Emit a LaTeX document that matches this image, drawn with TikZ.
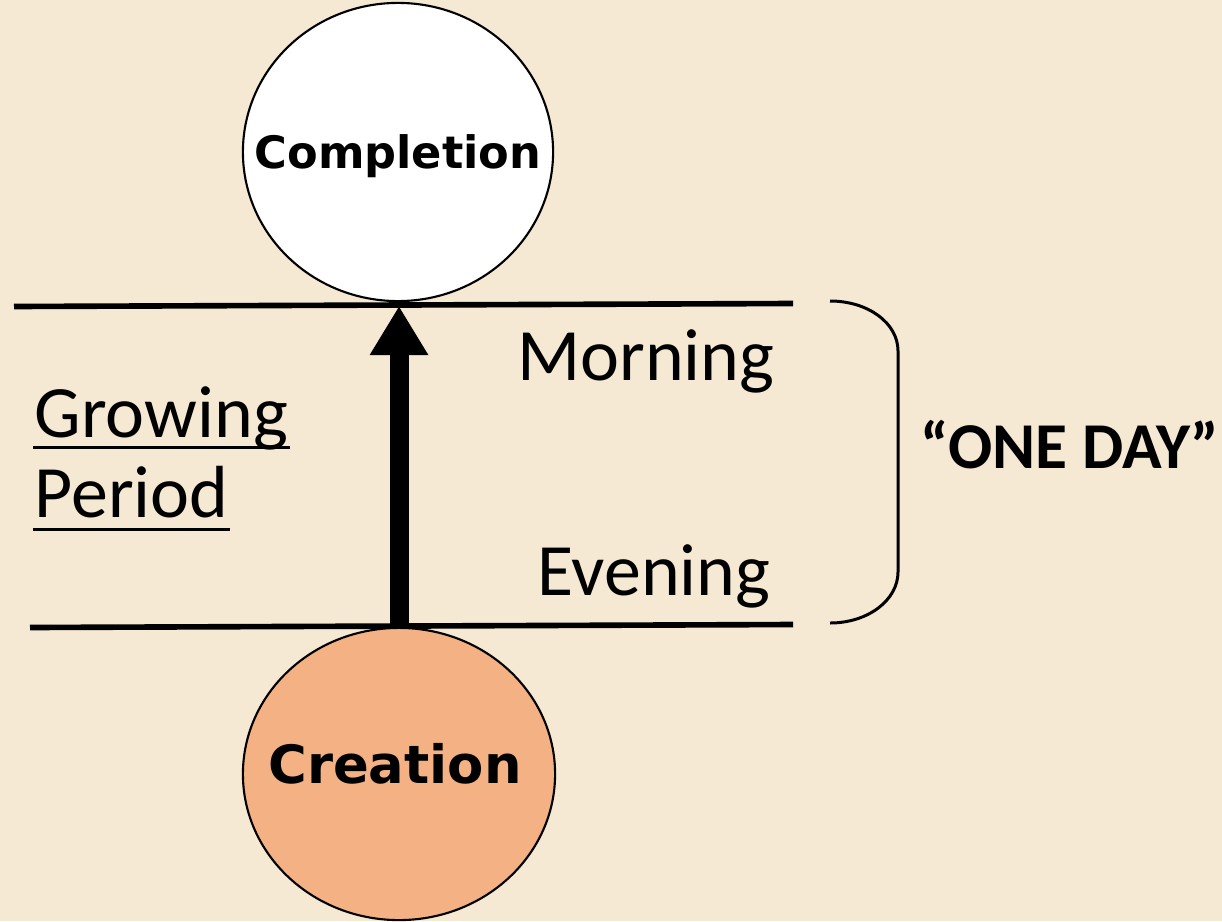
\documentclass[tikz,border=0pt]{standalone}
\usepackage{fontspec}
\setmainfont{Carlito}
\newfontfamily\dvbold{DejaVu Sans}
\usetikzlibrary{shapes.geometric,arrows.meta}
\definecolor{bgc}{RGB}{245,233,212}
\definecolor{salmon}{RGB}{244,177,131}
\tikzset{
  bubble/.style={ellipse, draw=black, line width=0.6pt, inner sep=0pt},
  circtext/.style={anchor=base, inner sep=0pt},
  daytext/.style={inner sep=0pt, font=\fontsize{21pt}{25pt}\selectfont},
  hline/.style={line width=1.6pt},
}
\begin{document}
\begin{tikzpicture}[x=0.01cm,y=-0.01cm]
\fill[bgc] (0,0) rectangle (1222,921);
\useasboundingbox (0,0) rectangle (1222,921);
% circles
\node[bubble, fill=white, minimum width=3.1cm, minimum height=2.98cm] (comp) at (398,152) {};
\node[bubble, fill=salmon, minimum width=3.12cm, minimum height=2.92cm] (crea) at (399,774) {};
\node[circtext, font=\dvbold\bfseries\fontsize{12.7pt}{15pt}\selectfont] (compt) at (398,168) {Completion};
\node[circtext, font=\dvbold\bfseries\fontsize{15pt}{17pt}\selectfont] (creat) at (395,783) {Creation};
% horizontal lines
\coordinate (tl) at (14,306.5);
\coordinate (tr) at (793,303.5);
\coordinate (bl) at (30,627.5);
\coordinate (br) at (793,624.5);
\draw[hline] (tl) -- (tr);
\draw[hline] (bl) -- (br);
% arrow
\coordinate (tip) at (399,306);
\coordinate (base) at (399,627);
\draw[line width=0.19cm, -{Triangle[width=0.55cm,length=0.49cm]}] (base) -- (tip);
% labels
\node[daytext, anchor=base east] (morn) at (775,380) {Morning};
\node[daytext, anchor=base east] (even) at (771,595) {Evening};
\node[daytext, anchor=base west] (grow) at (34,437) {Growing};
\node[daytext, anchor=base west] (peri) at (34,517) {Period};
\draw[line width=0.95pt] (33,447.5) -- (290,447.5);
\draw[line width=0.95pt] (33,529.5) -- (230,529.5);
% brace
\coordinate (bt) at (830,301);
\coordinate (bb) at (830,623);
\draw[line width=0.85pt] (bt) .. controls (868,301) and (898,323) .. (898,351) -- (898,572) .. controls (898,600) and (868,623) .. (bb);
\node[inner sep=0pt, anchor=base west, font=\bfseries\fontsize{18.6pt}{22pt}\selectfont] (oneday) at (920,468) {“ONE DAY”};
\end{tikzpicture}
\end{document}
